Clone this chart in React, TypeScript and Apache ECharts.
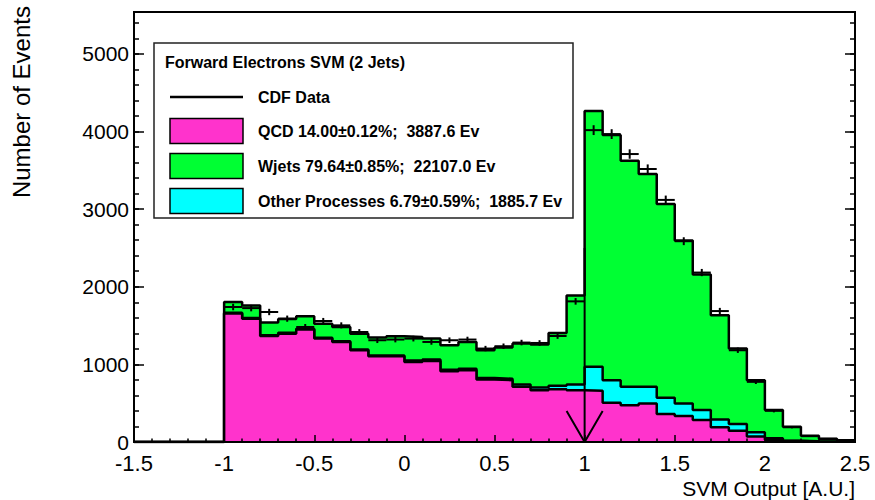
import React, { useEffect, useRef } from "react";
import * as echarts from "echarts";

// Histogram binning: 40 bins of width 0.1 on the SVM output axis
const binEdges = [
  -1.5, -1.4, -1.3, -1.2, -1.1, -1.0, -0.9, -0.8, -0.7, -0.6, -0.5, -0.4, -0.3, -0.2, -0.1,
  0.0, 0.1, 0.2, 0.3, 0.4, 0.5, 0.6, 0.7, 0.8, 0.9, 1.0, 1.1, 1.2, 1.3, 1.4, 1.5, 1.6, 1.7,
  1.8, 1.9, 2.0, 2.1, 2.2, 2.3, 2.4, 2.5,
];

// Per-bin event counts of each stacked component (bottom to top)
const qcd = [
  0, 0, 0, 0, 0,
  1654, 1589, 1366, 1396, 1448, 1332, 1289, 1182, 1105, 1105,
  1032, 1045, 912, 925, 806, 797, 711, 668, 681, 668,
  659, 505, 475, 497, 360, 334, 283, 189, 146, 72,
  30, 12, 6, 3, 2,
];
const otherProcesses = [
  0, 0, 0, 0, 0,
  10, 10, 10, 10, 10, 10, 10, 10, 10, 10,
  18, 18, 18, 18, 18, 18, 30, 35, 43, 73,
  309, 292, 236, 214, 209, 163, 128, 102, 85, 53,
  17, 5, 4, 3, 2,
];
const wjets = [
  0, 0, 0, 0, 0,
  139, 161, 162, 179, 161, 183, 183, 204, 230, 247,
  303, 269, 316, 346, 358, 402, 527, 552, 681, 1148,
  3298, 3157, 2913, 2742, 2498, 2099, 1748, 1341, 973, 672,
  364, 180, 69, 36, 20,
];

// Observed CDF data per bin
const cdfData = [
  0, 0, 0, 0, 0,
  1739, 1725, 1675, 1589, 1482, 1559, 1503, 1417, 1311, 1320,
  1332, 1289, 1311, 1320, 1204, 1234, 1281, 1276, 1366, 1812,
  4018, 3967, 3710, 3517, 3119, 2587, 2183, 1687, 1182, 775,
  402, 190, 75, 40, 20,
];

// Cut arrow at SVM output = 1
const cutValue = 1.0;
const arrowTop = 2500;
const arrowHeadX = [0.9, 1.0, 1.1];
const arrowHeadY = [400, 0, 400];

const X_MIN = -1.5;
const X_MAX = 2.5;
const X_STEP = 0.5;
const Y_MIN = 0;
const Y_MAX = 5540;
const Y_MAJOR = 1000;
const Y_MINOR = 200;

const legendTitle = "Forward Electrons SVM (2 Jets)";
const legendLabels = [
  "CDF Data",
  "QCD 14.00\u00b10.12%;  3887.6 Ev",
  "Wjets 79.64\u00b10.85%;  22107.0 Ev",
  "Other Processes 6.79\u00b10.59%;  1885.7 Ev",
];
const xTitle = "SVM Output [A.U.]";
const yTitle = "Number of Events";

const MAGENTA = "#ff33cc";
const GREEN = "#00ff33";
const CYAN = "#00ffff";
const FONT = '"Liberation Sans", Arial, Helvetica, sans-serif';

function stepPoints(vals: number[]) {
  const pts = vals.map((v, i) => [binEdges[i], v]);
  pts.push([binEdges[vals.length], vals[vals.length - 1]]);
  return pts;
}

// Each cumulative histogram is filled down to zero and outlined, top one drawn first
function histSeries(name: string, vals: number[], color: string, z: number) {
  return {
    name,
    type: "line",
    step: "end",
    data: stepPoints(vals),
    symbol: "none",
    z,
    lineStyle: { color: "#000", width: 2.5 },
    areaStyle: { color, opacity: 1, origin: "start" },
    xAxisIndex: 0,
    yAxisIndex: 0,
  };
}

function yAxisDef(position: "left" | "right", interval: number, tickLen: number, labels: boolean) {
  return {
    type: "value",
    position,
    min: Y_MIN,
    max: Y_MAX,
    interval,
    z: 10,
    axisLine: { show: true, onZero: false, lineStyle: { color: "#000", width: 2 } },
    axisTick: { show: true, inside: true, length: tickLen, lineStyle: { color: "#000", width: 1.5 } },
    axisLabel: {
      show: labels,
      color: "#000",
      fontSize: 21,
      lineHeight: 16,
      fontFamily: FONT,
      margin: 5,
      padding: [0, 0, 8, 0],
      showMaxLabel: false,
      formatter: (v: number) => String(v),
    },
    splitLine: { show: false },
  };
}

export default function App() {
  const ref = useRef<HTMLDivElement>(null);

  useEffect(() => {
    if (!ref.current) return;
    const chart = echarts.init(ref.current, undefined, { renderer: "svg" });

    // cumulative stack levels
    const qcdLevel = qcd.slice();
    const otherLevel = qcd.map((v, i) => v + otherProcesses[i]);
    const totalLevel = otherLevel.map((v, i) => v + wjets[i]);

    const dataRows = cdfData
      .map((v, i) => (v > 0 ? [binEdges[i], binEdges[i + 1], v] : null))
      .filter((r) => r !== null);

    const sampleX = 170;
    const sampleW = 73;
    const textX = 258;
    const rowY = [97, 131, 166, 201];
    const boxColors = [MAGENTA, GREEN, CYAN];

    const legendGraphics: any[] = [
      {
        type: "rect",
        shape: { x: 154, y: 43, width: 419, height: 175 },
        style: { fill: "#fff", stroke: "#222", lineWidth: 1.5 },
        z: 100,
      },
      {
        type: "text",
        x: 165,
        y: 62,
        style: {
          text: legendTitle,
          fontFamily: FONT,
          fontWeight: "bold",
          fontSize: 16,
          fill: "#000",
          verticalAlign: "middle",
        },
        z: 101,
      },
      {
        type: "line",
        shape: { x1: sampleX, y1: rowY[0], x2: sampleX + sampleW, y2: rowY[0] },
        style: { stroke: "#000", lineWidth: 2.5 },
        z: 101,
      },
    ];
    boxColors.forEach((c, k) => {
      legendGraphics.push({
        type: "rect",
        shape: { x: sampleX, y: rowY[k + 1] - 12.5, width: sampleW, height: 25 },
        style: { fill: c, stroke: "#000", lineWidth: 1.5 },
        z: 101,
      });
    });
    legendLabels.forEach((label, k) => {
      legendGraphics.push({
        type: "text",
        x: textX,
        y: rowY[k],
        style: {
          text: label,
          fontFamily: FONT,
          fontWeight: "bold",
          fontSize: 16,
          fill: "#000",
          verticalAlign: "middle",
        },
        z: 101,
      });
    });

    const option: any = {
      animation: false,
      grid: {
        left: 134,
        right: 20,
        top: 12,
        bottom: 58,
        show: true,
        borderColor: "#000",
        borderWidth: 2,
        backgroundColor: "transparent",
      },
      xAxis: [
        {
          type: "value",
          position: "bottom",
          min: X_MIN,
          max: X_MAX,
          interval: X_STEP,
          z: 10,
          axisLine: { show: true, onZero: false, lineStyle: { color: "#000", width: 2 } },
          axisTick: { show: true, inside: true, length: 7, lineStyle: { color: "#000", width: 1.5 } },
          minorTick: { show: true, splitNumber: 5, length: 3.5, lineStyle: { color: "#000", width: 1.5 } },
          axisLabel: { color: "#000", fontSize: 22, lineHeight: 16, fontFamily: FONT, margin: 13 },
          splitLine: { show: false },
          minorSplitLine: { show: false },
        },
      ],
      yAxis: [
        yAxisDef("left", Y_MAJOR, 10, true),
        yAxisDef("left", Y_MINOR, 5, false),
        yAxisDef("right", Y_MAJOR, 10, false),
        yAxisDef("right", Y_MINOR, 5, false),
      ],
      series: [
        histSeries("Wjets", totalLevel, GREEN, 3),
        histSeries("Other Processes", otherLevel, CYAN, 4),
        histSeries("QCD", qcdLevel, MAGENTA, 5),
        {
          name: "CDF Data",
          type: "custom",
          data: dataRows,
          encode: { x: [0, 1], y: 2 },
          z: 7,
          renderItem: (params: any, api: any) => {
            const x0 = api.value(0);
            const x1 = api.value(1);
            const v = api.value(2);
            const err = Math.sqrt(v);
            const mid = (x0 + x1) / 2;
            const a = api.coord([x0, v]);
            const b = api.coord([x1, v]);
            const t = api.coord([mid, v + err]);
            const u = api.coord([mid, v - err]);
            const st = { stroke: "#000", lineWidth: 2 };
            return {
              type: "group",
              children: [
                { type: "line", shape: { x1: a[0], y1: a[1], x2: b[0], y2: b[1] }, style: st },
                { type: "line", shape: { x1: t[0], y1: t[1], x2: u[0], y2: u[1] }, style: st },
              ],
            };
          },
        },
        {
          name: "cut",
          type: "line",
          data: [
            [cutValue, arrowTop],
            [cutValue, 0],
          ],
          symbol: "none",
          z: 8,
          lineStyle: { color: "#000", width: 2 },
        },
        {
          name: "cutHead",
          type: "line",
          data: arrowHeadX.map((x, i) => [x, arrowHeadY[i]]),
          symbol: "none",
          z: 8,
          lineStyle: { color: "#000", width: 2 },
        },
      ],
      graphic: [
        {
          type: "text",
          x: 21,
          y: 6,
          rotation: Math.PI / 2,
          style: {
            text: yTitle,
            fontFamily: FONT,
            fontSize: 24,
            fill: "#000",
            align: "right",
            verticalAlign: "middle",
          },
        },
        {
          type: "text",
          x: 855,
          y: 488,
          style: {
            text: xTitle,
            fontFamily: FONT,
            fontSize: 21,
            fill: "#000",
            align: "right",
            verticalAlign: "middle",
          },
        },
        ...legendGraphics,
      ],
    };

    chart.setOption(option);
    return () => chart.dispose();
  }, []);

  return (
    <div
      ref={ref}
      style={{ position: "absolute", left: 0, top: 0, width: 875, height: 500, background: "#fff" }}
    />
  );
}
